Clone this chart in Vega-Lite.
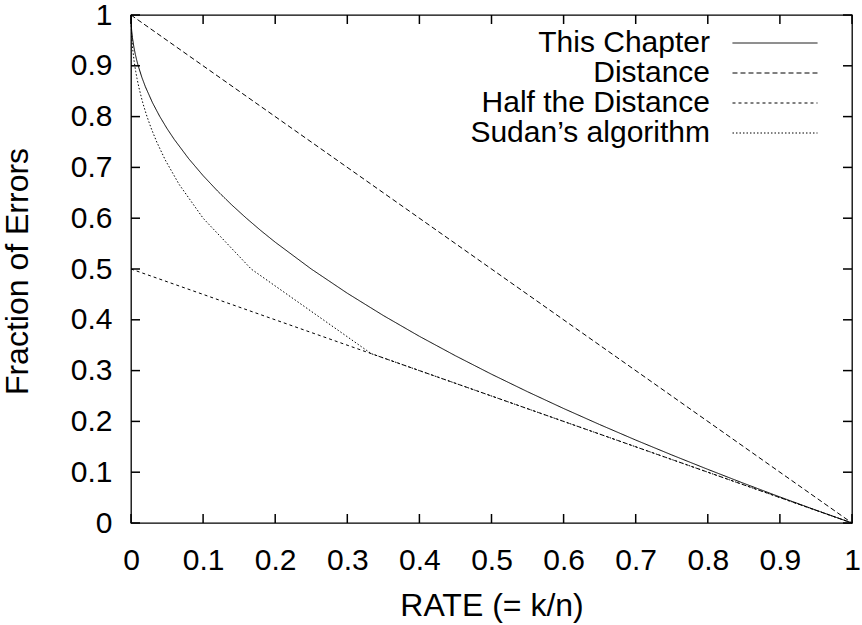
{
  "$schema": "https://vega.github.io/schema/vega-lite/v6.json",
  "width": 721,
  "height": 508,
  "autosize": {"type": "none"},
  "padding": {"left": 131, "top": 15, "right": 10, "bottom": 102},
  "config": {
    "font": "Liberation Sans",
    "view": {"stroke": "#000", "strokeWidth": 1.3},
    "axis": {"grid": false, "domain": false, "ticks": false, "labelColor": "#000", "titleColor": "#000", "labelFontSize": 30, "titleFontSize": 32, "titleFontWeight": "normal", "labelFont": "Liberation Sans", "titleFont": "Liberation Sans", "labelFlush": false, "labelOverlap": false}
  },
  "datasets": {
    "ticks": [{"v": 0}, {"v": 0.1}, {"v": 0.2}, {"v": 0.3}, {"v": 0.4}, {"v": 0.5}, {"v": 0.6}, {"v": 0.7}, {"v": 0.8}, {"v": 0.9}, {"v": 1}]
  },
  "data": {"values": [
    {"series": "This Chapter", "rate": 0, "fraction": 1},
    {"series": "This Chapter", "rate": 0.0005, "fraction": 0.9776},
    {"series": "This Chapter", "rate": 0.001, "fraction": 0.9684},
    {"series": "This Chapter", "rate": 0.002, "fraction": 0.9553},
    {"series": "This Chapter", "rate": 0.004, "fraction": 0.9368},
    {"series": "This Chapter", "rate": 0.006, "fraction": 0.9225},
    {"series": "This Chapter", "rate": 0.008, "fraction": 0.9106},
    {"series": "This Chapter", "rate": 0.01, "fraction": 0.9},
    {"series": "This Chapter", "rate": 0.015, "fraction": 0.8775},
    {"series": "This Chapter", "rate": 0.02, "fraction": 0.8586},
    {"series": "This Chapter", "rate": 0.03, "fraction": 0.8268},
    {"series": "This Chapter", "rate": 0.04, "fraction": 0.8},
    {"series": "This Chapter", "rate": 0.05, "fraction": 0.7764},
    {"series": "This Chapter", "rate": 0.06, "fraction": 0.7551},
    {"series": "This Chapter", "rate": 0.08, "fraction": 0.7172},
    {"series": "This Chapter", "rate": 0.1, "fraction": 0.6838},
    {"series": "This Chapter", "rate": 0.12, "fraction": 0.6536},
    {"series": "This Chapter", "rate": 0.14, "fraction": 0.6258},
    {"series": "This Chapter", "rate": 0.16, "fraction": 0.6},
    {"series": "This Chapter", "rate": 0.18, "fraction": 0.5757},
    {"series": "This Chapter", "rate": 0.2, "fraction": 0.5528},
    {"series": "This Chapter", "rate": 0.25, "fraction": 0.5},
    {"series": "This Chapter", "rate": 0.3, "fraction": 0.4523},
    {"series": "This Chapter", "rate": 0.35, "fraction": 0.4084},
    {"series": "This Chapter", "rate": 0.4, "fraction": 0.3675},
    {"series": "This Chapter", "rate": 0.45, "fraction": 0.3292},
    {"series": "This Chapter", "rate": 0.5, "fraction": 0.2929},
    {"series": "This Chapter", "rate": 0.55, "fraction": 0.2584},
    {"series": "This Chapter", "rate": 0.6, "fraction": 0.2254},
    {"series": "This Chapter", "rate": 0.65, "fraction": 0.1938},
    {"series": "This Chapter", "rate": 0.7, "fraction": 0.1633},
    {"series": "This Chapter", "rate": 0.75, "fraction": 0.134},
    {"series": "This Chapter", "rate": 0.8, "fraction": 0.1056},
    {"series": "This Chapter", "rate": 0.85, "fraction": 0.078},
    {"series": "This Chapter", "rate": 0.9, "fraction": 0.0513},
    {"series": "This Chapter", "rate": 0.95, "fraction": 0.0253},
    {"series": "This Chapter", "rate": 1, "fraction": 0},
    {"series": "Distance", "rate": 0, "fraction": 1},
    {"series": "Distance", "rate": 1, "fraction": 0},
    {"series": "Half the Distance", "rate": 0, "fraction": 0.5},
    {"series": "Half the Distance", "rate": 1, "fraction": 0},
    {"series": "Sudan’s algorithm", "rate": 0, "fraction": 1},
    {"series": "Sudan’s algorithm", "rate": 0.000754, "fraction": 0.9615},
    {"series": "Sudan’s algorithm", "rate": 0.002016, "fraction": 0.9375},
    {"series": "Sudan’s algorithm", "rate": 0.004329, "fraction": 0.9091},
    {"series": "Sudan’s algorithm", "rate": 0.006536, "fraction": 0.8889},
    {"series": "Sudan’s algorithm", "rate": 0.008333, "fraction": 0.875},
    {"series": "Sudan’s algorithm", "rate": 0.010989, "fraction": 0.8571},
    {"series": "Sudan’s algorithm", "rate": 0.015152, "fraction": 0.8333},
    {"series": "Sudan’s algorithm", "rate": 0.018182, "fraction": 0.8182},
    {"series": "Sudan’s algorithm", "rate": 0.022222, "fraction": 0.8},
    {"series": "Sudan’s algorithm", "rate": 0.027778, "fraction": 0.7778},
    {"series": "Sudan’s algorithm", "rate": 0.035714, "fraction": 0.75},
    {"series": "Sudan’s algorithm", "rate": 0.047619, "fraction": 0.7143},
    {"series": "Sudan’s algorithm", "rate": 0.066667, "fraction": 0.6667},
    {"series": "Sudan’s algorithm", "rate": 0.1, "fraction": 0.6},
    {"series": "Sudan’s algorithm", "rate": 0.166667, "fraction": 0.5},
    {"series": "Sudan’s algorithm", "rate": 0.333333, "fraction": 0.3333},
    {"series": "Sudan’s algorithm", "rate": 1, "fraction": 0}
  ]},
  "layer": [
    {
      "mark": {"type": "line", "color": "#000", "strokeWidth": 1},
      "encoding": {
        "x": {"field": "rate", "type": "quantitative", "scale": {"domain": [0, 1], "nice": false},
          "axis": {"orient": "bottom", "values": [0, 0.1, 0.2, 0.3, 0.4, 0.5, 0.6, 0.7, 0.8, 0.9, 1], "format": "~g", "labelPadding": 22, "title": "RATE (= k/n)", "titleY": 92, "titleBaseline": "alphabetic"}},
        "y": {"field": "fraction", "type": "quantitative", "scale": {"domain": [0, 1], "nice": false},
          "axis": {"orient": "left", "values": [0, 0.1, 0.2, 0.3, 0.4, 0.5, 0.6, 0.7, 0.8, 0.9, 1], "format": "~g", "labelPadding": 19, "title": "Fraction of Errors", "titleX": -104, "titleY": 256, "titleBaseline": "alphabetic"}},
        "strokeDash": {"field": "series", "type": "nominal",
          "scale": {"domain": ["This Chapter", "Distance", "Half the Distance", "Sudan’s algorithm"], "range": [[1, 0], [5, 3], [3, 3], [1.5, 2]]},
          "legend": {"orient": "none", "legendX": 629, "legendY": 13, "title": null, "symbolType": "M-3,0H3", "symbolSize": 803, "symbolStrokeWidth": 1, "symbolStrokeColor": "#000", "symbolFillColor": "transparent", "symbolOpacity": 1, "labelFontSize": 30, "labelFont": "Liberation Sans", "labelColor": "#000", "labelAlign": "right", "labelOffset": -80, "labelLimit": 0, "rowPadding": 0, "padding": 0}}
      }
    },
    {
      "data": {"name": "ticks"},
      "mark": {"type": "tick", "orient": "vertical", "size": 9, "thickness": 1.5, "color": "#000", "opacity": 1, "yOffset": -4.5},
      "encoding": {
        "x": {"field": "v", "type": "quantitative", "axis": null},
        "y": {"datum": 0, "type": "quantitative", "axis": null}
      }
    },
    {
      "data": {"name": "ticks"},
      "mark": {"type": "tick", "orient": "vertical", "size": 9, "thickness": 1.5, "color": "#000", "opacity": 1, "yOffset": 4.5},
      "encoding": {
        "x": {"field": "v", "type": "quantitative", "axis": null},
        "y": {"datum": 1, "type": "quantitative", "axis": null}
      }
    },
    {
      "data": {"name": "ticks"},
      "mark": {"type": "tick", "orient": "horizontal", "size": 9, "thickness": 1.5, "color": "#000", "opacity": 1, "xOffset": 4.5},
      "encoding": {
        "y": {"field": "v", "type": "quantitative", "axis": null},
        "x": {"datum": 0, "type": "quantitative", "axis": null}
      }
    },
    {
      "data": {"name": "ticks"},
      "mark": {"type": "tick", "orient": "horizontal", "size": 9, "thickness": 1.5, "color": "#000", "opacity": 1, "xOffset": -4.5},
      "encoding": {
        "y": {"field": "v", "type": "quantitative", "axis": null},
        "x": {"datum": 1, "type": "quantitative", "axis": null}
      }
    }
  ],
  "resolve": {"axis": {"x": "independent", "y": "independent"}}
}
